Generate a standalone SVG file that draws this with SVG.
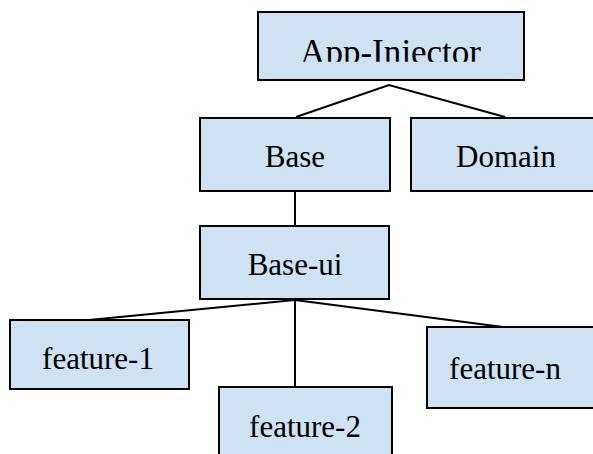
<svg xmlns="http://www.w3.org/2000/svg" width="593" height="454" viewBox="0 0 593 454">
<defs>
<style>
.box{fill:#cfe2f3;stroke:#000;stroke-width:2}
.lbl{font-family:"Liberation Serif","Times New Roman",serif;font-size:31px;fill:#000;text-anchor:middle}
.edge{stroke:#000;stroke-width:2;fill:none}
</style>
<clipPath id="clipApp"><rect x="258" y="12" width="266" height="49.7"/></clipPath>
</defs>
<rect width="593" height="454" fill="#fff"/>
<g id="connectors">
<polyline class="edge" points="296,117 389,85 505,117"/>
<line class="edge" x1="295" y1="191" x2="295" y2="226"/>
<line class="edge" x1="295" y1="300" x2="89" y2="320"/>
<line class="edge" x1="295" y1="300" x2="295" y2="387"/>
<line class="edge" x1="295" y1="300" x2="503" y2="327"/>
</g>
<g id="app-injector">
<rect class="box" x="258" y="12" width="266" height="68"/>
<text class="lbl" x="390.5" y="63.5" clip-path="url(#clipApp)" style="font-size:35px">App-Injector</text>
</g>
<g id="base">
<rect class="box" x="200" y="118" width="190" height="73"/>
<text class="lbl" x="295" y="167">Base</text>
</g>
<g id="domain">
<rect class="box" x="411" y="118" width="190" height="73"/>
<text class="lbl" x="506" y="167">Domain</text>
</g>
<g id="base-ui">
<rect class="box" x="200" y="226" width="189" height="73"/>
<text class="lbl" x="295" y="275">Base-ui</text>
</g>
<g id="feature-1">
<rect class="box" x="10" y="320" width="179" height="69"/>
<text class="lbl" x="98" y="369">feature-1</text>
</g>
<g id="feature-2">
<rect class="box" x="219" y="387" width="173" height="80"/>
<text class="lbl" x="305" y="437">feature-2</text>
</g>
<g id="feature-n">
<rect class="box" x="427" y="327" width="180" height="81"/>
<text class="lbl" x="505" y="379">feature-n</text>
</g>
</svg>
